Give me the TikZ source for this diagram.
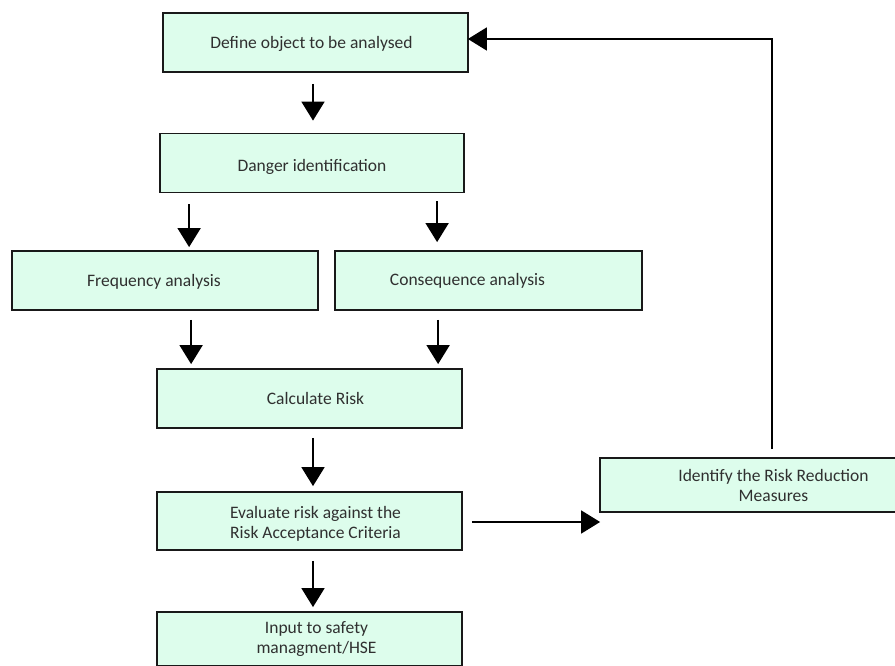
\documentclass[tikz,border=0pt]{standalone}
\usepackage{fontspec}
\setmainfont{Carlito}
\usetikzlibrary{arrows.meta,calc}
\definecolor{boxfill}{RGB}{221,253,236}
\definecolor{boxtext}{RGB}{48,48,48}
\begin{document}
\begin{tikzpicture}[x=1pt,y=1pt,
  stepbox/.style={draw=black!90, line width=1.8pt, fill=boxfill, rectangle,
    minimum width=306pt, minimum height=59pt, inner sep=0pt},
  boxlabel/.style={font=\fontsize{17.5}{20}\selectfont, text=boxtext, align=center, inner sep=0pt},
  flow/.style={line width=1.8pt, -{Triangle[length=19pt,width=23pt]}}]
\useasboundingbox (0,0) rectangle (895,666);
\clip (0,0) rectangle (895,666);

% process steps
\node[stepbox, minimum width=305pt, label={[boxlabel,xshift=-4pt,yshift=-1pt]center:Define object to be analysed}] (def) at (315.5,623.5) {};
\node[stepbox, minimum width=304pt, minimum height=59pt, label={[boxlabel,yshift=-4pt]center:Danger identification}] (dan) at (312,503) {};
\node[stepbox, label={[boxlabel,xshift=-11pt,yshift=-1pt]center:Frequency analysis}] (fre) at (165,385.5) {};
\node[stepbox, minimum width=307pt, label={[boxlabel,xshift=-21pt]center:Consequence analysis}] (con) at (488.5,385.5) {};
\node[stepbox, minimum width=305pt, label={[boxlabel,xshift=6pt]center:Calculate Risk}] (cal) at (309.5,267.5) {};
\node[stepbox, minimum width=305pt, minimum height=58pt, label={[boxlabel,xshift=6pt,yshift=-3pt]center:Evaluate risk against the\\Risk Acceptance Criteria}] (eva) at (309.5,145) {};
\node[stepbox, minimum width=305pt, minimum height=54pt, label={[boxlabel,xshift=7pt]center:Input to safety\\managment/HSE}] (inp) at (309.5,27) {};
\node[stepbox, minimum width=341pt, minimum height=54pt, label={[boxlabel,xshift=3pt]center:Identify the Risk Reduction\\Measures}] (ide) at (770.5,181) {};

% downward flow
\draw[flow, shorten >=12pt] ($(def.south)+(-2.5,-11)$) coordinate (s1) -- (s1 |- dan.north);
\draw[flow, shorten >=3pt]  ($(dan.south west)+(30,-11)$) coordinate (s2) -- (s2 |- fre.north);
\draw[flow, shorten >=8pt]  ($(dan.south west)+(278,-8)$) coordinate (s3) -- (s3 |- con.north);
\draw[flow, shorten >=4pt]  ($(fre.south west)+(180,-9)$) coordinate (s4) -- (s4 |- cal.north);
\draw[flow, shorten >=4pt]  ($(con.south west)+(104,-9)$) coordinate (s5) -- (s5 |- cal.north);
\draw[flow, shorten >=5pt]  ($(cal.south)+(3.5,-9)$) coordinate (s6) -- (s6 |- eva.north);
\draw[flow, shorten >=4pt]  ($(eva.south)+(3.5,-10)$) coordinate (s7) -- (s7 |- inp.north);

% evaluation to reduction measures
\draw[flow, shorten >=-1pt] ($(eva.east)+(9,-1)$) coordinate (s8) -- (s8 -| ide.west);

% feedback loop to the start
\coordinate (turn) at (772,627);
\draw[flow, shorten >=-1pt] ([yshift=8pt]ide.north -| turn) -- (turn) -- (turn -| def.east);
\end{tikzpicture}
\end{document}
